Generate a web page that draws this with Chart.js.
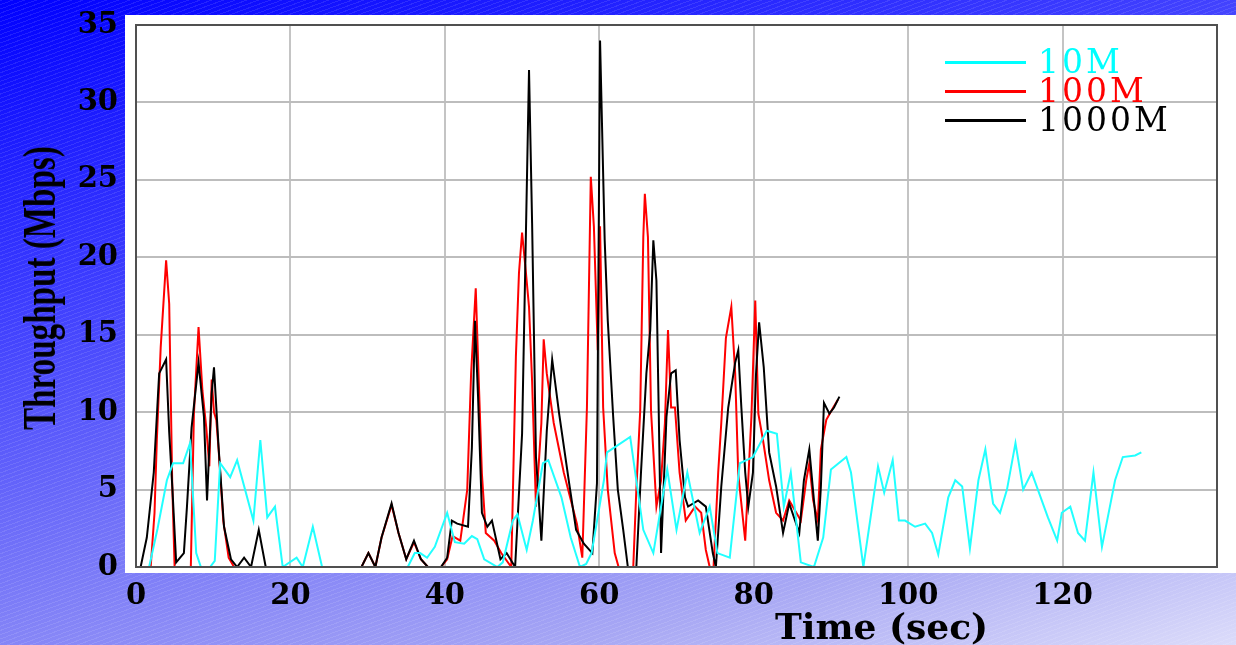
<!DOCTYPE html>
<html>
<head>
<meta charset="utf-8">
<script src="https://cdn.jsdelivr.net/npm/chart.js@4.4.1/dist/chart.umd.min.js"></script>
<style>
  html, body { margin: 0; padding: 0; }
  body {
    width: 1236px; height: 645px; overflow: hidden; position: relative;
    background:
      repeating-linear-gradient(160deg, rgba(255,255,255,0.10) 0px, rgba(255,255,255,0.10) 1px, rgba(255,255,255,0) 1px, rgba(255,255,255,0) 4px),
      linear-gradient(165deg, #0000ff 0%, #3a3aff 30%, #7878f8 60%, #a8a8f4 82%, #dcdcfa 100%);
  }
  #panel { position: absolute; left: 125px; top: 15px; width: 1111px; height: 558px; background: #ffffff; }
  #wrap { position: absolute; left: 0; top: 0; width: 1236px; height: 645px; }
  #ytitle {
    position: absolute; left: 40px; top: 288px; white-space: nowrap;
    font-family: "Liberation Serif", serif; font-weight: bold; font-size: 46px; line-height: 46px; color: #000;
    transform: translate(-50%, -50%) rotate(-90deg) scaleX(0.72);
  }
  #xtitle {
    position: absolute; left: 775px; top: 608px; white-space: nowrap;
    font-family: "DejaVu Serif", serif; font-weight: bold; font-size: 36px; line-height: 36px; color: #000;
  }
  .leg { position: absolute; left: 945px; height: 30px; white-space: nowrap;
    font-family: "DejaVu Serif", serif; font-size: 33px; line-height: 30px; letter-spacing: 3px; }
  .leg span.ln { position: absolute; left: 0; top: 14px; width: 81px; height: 3px; }
  .leg span.tx { position: absolute; left: 93px; top: 0; }
</style>
</head>
<body>
<div id="panel"></div>
<div id="wrap"><canvas id="c" width="1236" height="645"></canvas></div>
<div id="ytitle">Throughput (Mbps)</div>
<div id="xtitle">Time (sec)</div>
<div class="leg" style="top:47px"><span class="ln" style="background:#00ffff"></span><span class="tx" style="color:#00ffff">10M</span></div>
<div class="leg" style="top:76px"><span class="ln" style="background:#ff0000"></span><span class="tx" style="color:#ff0000">100M</span></div>
<div class="leg" style="top:105px"><span class="ln" style="background:#000000"></span><span class="tx" style="color:#000000">1000M</span></div>
<script>
// ---- Data ----
const seriesNames = ["10M", "100M", "1000M"];
const xTicks = [0, 20, 40, 60, 80, 100, 120];
const yTicks = [0, 5, 10, 15, 20, 25, 30, 35];

const t10 = [0,1.7,2.8,4,4.8,6.1,7,7.8,8.4,9.6,10.2,10.9,12.2,13.1,15.2,16.1,17,18,19,20.8,21.6,22.9,24.1,35.2,36.1,36.8,37.7,38.7,40.3,41.3,42.5,43.5,44.2,45.1,46.8,47.5,48.8,49.4,50.6,51.4,52.7,53.4,55.1,56.3,57.5,58.3,59,60.6,61,64,65.7,67,68.8,70,71.4,73,74.3,75.3,76.9,78.2,79.9,81.7,83,83.9,84.8,86.1,87.8,89,90,92,92.6,94.2,96.1,96.9,98,98.8,99.6,100.9,102.2,103.1,103.9,105.2,106.1,107,108,109.1,110,111,111.9,112.8,113.9,114.9,116,116.8,118.1,119.3,119.9,121,122,122.9,124,125.1,126.8,127.8,129.4,130.2];
const v10 = [0,0,2.5,5.6,6.7,6.7,8.0,0.9,0,0,0.4,6.7,5.8,6.9,3.0,8.2,3.2,3.9,0,0.6,0,2.6,0,0,0.9,0.9,0.6,1.3,3.5,1.6,1.5,2.0,1.8,0.5,0,0.3,3.0,3.4,1.1,3.0,6.7,6.9,4.5,1.9,0,0.2,0.9,5.6,7.4,8.4,2.4,0.9,6.3,2.4,6.1,2.2,3.9,0.9,0.6,6.7,7.1,8.8,8.6,3.9,6.1,0.3,0,1.9,6.3,7.1,6.1,0,6.5,4.8,6.9,3.0,3.0,2.6,2.8,2.2,0.8,4.5,5.6,5.2,1.2,5.6,7.6,4.1,3.5,5.0,8.0,5.0,6.1,5.0,3.2,1.7,3.5,3.9,2.2,1.7,6.1,1.3,5.6,7.1,7.2,7.4];

const t100 = [0,1.9,2.4,2.7,3.2,3.9,4.3,4.7,5.0,7.1,7.5,8.1,8.6,9.1,9.5,9.8,10.1,10.4,10.7,11.3,12,12.7,29.2,30.1,31,31.8,33.1,34,35,36,36.9,37.8,39.5,40.3,41,42,42.9,43.4,44,44.4,44.8,45.3,46.4,47.3,48.6,49.2,49.6,50,50.5,50.9,51.3,51.8,52.5,52.8,53.2,54.1,55.4,57.1,57.8,58.4,58.9,59.3,59.8,60.1,60.5,61.1,62,62.5,64.4,64.8,65.3,65.7,65.9,66.3,66.7,67.4,68,68.5,68.9,69.3,69.8,70.4,71.2,72.4,73.2,73.8,74.3,74.8,75.4,75.8,76.4,77.1,77.6,78,78.9,79.7,80.2,80.6,81.2,82,82.9,83.8,84.6,86.1,86.8,87.2,87.7,88.3,88.7,89.4,90.3,90.9];
const v100 = [0,0,3.5,8.2,14.2,19.8,17,5.2,0,0,9.9,15.5,11.4,9,6.5,12.1,10,9.5,7.6,3,0.6,0,0,0.9,0,1.9,4.0,2.2,0.5,1.6,0.5,0,0,0.5,2.0,1.7,5,12.5,18,11.9,6,2.2,1.7,0.9,0,13.6,19,21.6,19,16.8,12,3.9,9.3,14.7,12.5,9.3,6.1,2.8,0.6,10.3,25.2,22,14,22,10.3,5,0.9,0,0,5,10.1,21.3,24.1,21.3,10.1,3.9,5.6,9.3,15.3,10.3,10.3,6.1,3,3.9,3.5,1.1,0,0,6.1,9.3,14.8,16.8,12.5,6,1.7,9.7,17.2,9.9,8.2,5.6,3.5,3,4.3,3,5.6,6.7,4.3,3,7.6,9.5,10.3,10.8];

const t1000 = [0,0.6,1.4,2.3,3,3.9,4.3,4.7,5.2,6.2,6.6,7.2,8.1,8.8,9.2,9.8,10.1,10.7,11.4,12.3,13.1,14,14.9,15.9,16.8,29.2,30.1,31,31.8,33.1,34,35,36,36.9,37.8,39.5,40.3,40.9,41.6,43,43.5,43.9,44.3,44.8,45.5,46.1,47.2,48,49.1,50,50.5,50.9,51.3,51.8,52.5,53.2,53.9,54.8,56.1,57,58,59.1,59.7,60.1,60.7,61.1,61.8,62.4,63.1,63.7,64.8,65.4,66.1,66.6,67,67.4,67.7,68,68.7,69.3,69.9,70.4,71.1,71.5,72.8,73.8,74.7,75.1,75.8,76.7,77.6,78,78.4,78.9,79.3,79.9,80.3,80.7,81.3,82,82.9,83.8,84.6,85.9,86.5,87.2,87.8,88.3,88.7,89.1,89.8,90.4,91.1];
const v1000 = [0,0,1.9,6.1,12.5,13.4,8.7,5.2,0.3,0.9,3.9,9,13.2,9.7,4.3,11.2,12.9,7.7,2.6,0.5,0,0.6,0,2.4,0,0,0.9,0,1.9,4.1,2.2,0.5,1.7,0.5,0,0,0.6,3.0,2.8,2.6,7.7,15.9,11,3.5,2.6,3,0.5,0.9,0,8.6,21.6,32.1,22.2,7.1,1.7,8.8,13.4,9.9,5.4,2.4,1.5,0.9,5.4,34,21.1,15.9,9.7,5,2.4,0,0,6.1,12.5,15.3,21.1,18.5,10,0.9,9.7,12.5,12.7,8.2,4.5,3.9,4.3,3.9,0.9,0,5.2,10.3,13.2,14,10.3,6.1,3.9,6.1,12.5,15.8,12.9,7.4,5.2,2.2,4.1,2.2,5.6,7.6,4.3,1.7,5.2,10.6,9.9,10.3,11];

function pts(ts, vs) { return ts.map((t, i) => ({ x: t, y: vs[i] })); }

const serif = '"DejaVu Serif", serif';
const LEFT = 136, TOP = 25, RIGHT = 1217, BOTTOM = 567;

const frame = {
  id: 'frame',
  afterDatasetsDraw(chart) {
    const a = chart.chartArea, ctx = chart.ctx;
    ctx.save();
    ctx.strokeStyle = '#505050';
    ctx.lineWidth = 2;
    ctx.strokeRect(a.left, a.top, a.right - a.left, a.bottom - a.top);
    ctx.restore();
  }
};

new Chart(document.getElementById('c'), {
  type: 'line',
  data: {
    datasets: [
      { label: seriesNames[0], data: pts(t10, v10), borderColor: '#22ffff', borderWidth: 2, order: 0 },
      { label: seriesNames[2], data: pts(t1000, v1000), borderColor: '#000000', borderWidth: 2, order: 1 },
      { label: seriesNames[1], data: pts(t100, v100), borderColor: '#ff0000', borderWidth: 2, order: 2 }
    ]
  },
  options: {
    responsive: false,
    animation: false,
    parsing: false,
    elements: { point: { radius: 0 }, line: { tension: 0, fill: false } },
    layout: { padding: { left: 0, top: TOP, right: 1236 - RIGHT, bottom: 0 } },
    plugins: { legend: { display: false }, tooltip: { enabled: false } },
    scales: {
      x: {
        type: 'linear', min: 0, max: 140,
        afterBuildTicks: (s) => { s.ticks = [0,20,40,60,80,100,120,140].map(v => ({ value: v })); },
        afterFit: (s) => { s.height = 645 - BOTTOM; s.paddingLeft = 0; s.paddingRight = 0; },
        ticks: {
          padding: 12, color: '#000', maxRotation: 0, autoSkip: false,
          font: { family: serif, weight: 'bold', size: 29 },
          callback: (v) => xTicks.includes(v) ? String(v) : ''
        },
        grid: { color: '#c4c4c4', lineWidth: 2, drawTicks: false },
        border: { display: true, color: '#505050', width: 2 }
      },
      y: {
        type: 'linear', min: 0, max: 35,
        afterBuildTicks: (s) => { s.ticks = yTicks.map(v => ({ value: v })); },
        afterFit: (s) => { s.width = LEFT; s.paddingTop = 0; s.paddingBottom = 0; },
        ticks: {
          padding: 18, color: '#000', autoSkip: false,
          font: { family: serif, weight: 'bold', size: 29 }
        },
        grid: { color: '#bdbdbd', lineWidth: 2, drawTicks: false },
        border: { display: true, color: '#505050', width: 2 }
      }
    }
  },
  plugins: [frame]
});
</script>
</body>
</html>
